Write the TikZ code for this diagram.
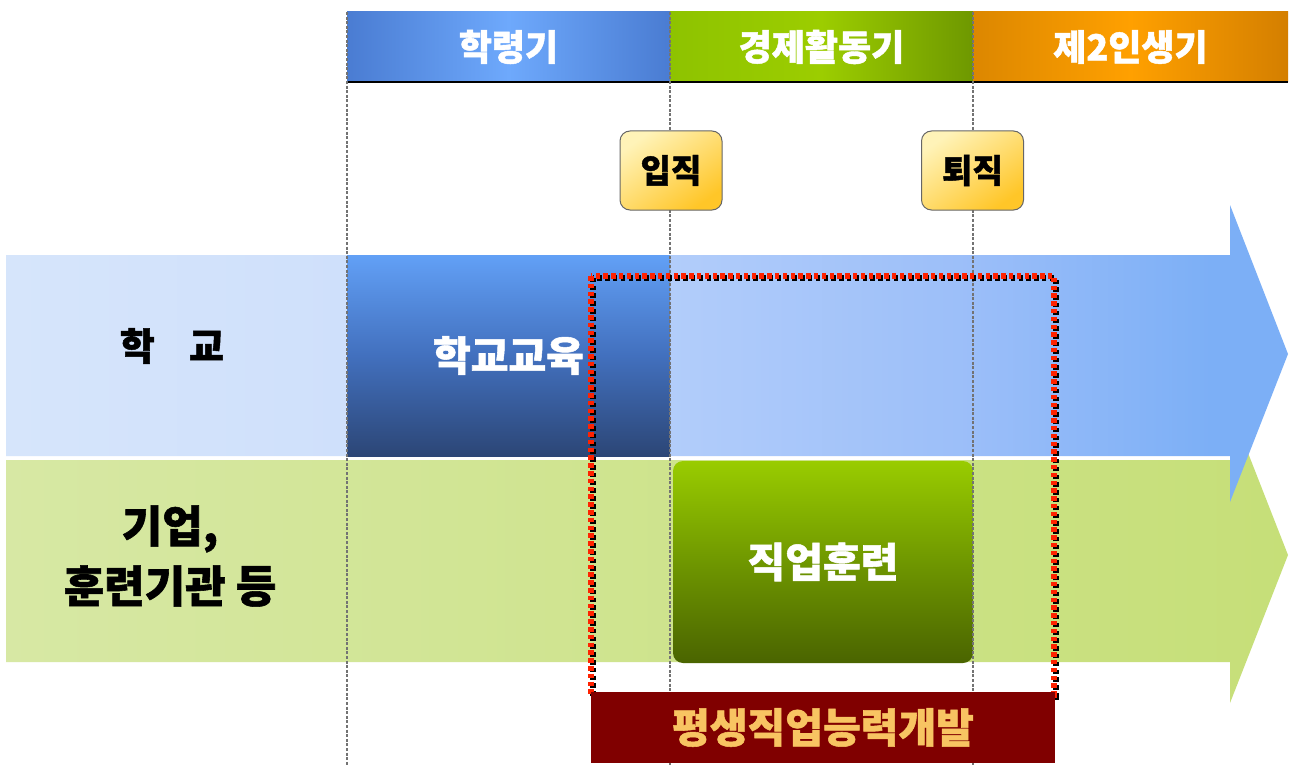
\documentclass[tikz,border=0pt]{standalone}
\usepackage{fontspec}
\setmainfont{Noto Sans CJK KR}[BoldFeatures={FakeBold=1.3}]
\definecolor{ba1}{HTML}{D6E5FB}
\definecolor{ba2}{HTML}{CFE0FB}
\definecolor{ba3}{HTML}{B2CDFA}
\definecolor{ba4}{HTML}{9BBEF9}
\definecolor{ba5}{HTML}{7CAFF6}
\definecolor{ga1}{HTML}{D7E8A4}
\definecolor{ga2}{HTML}{C6DF78}
\definecolor{hb1}{HTML}{4A7CD2}
\definecolor{hb2}{HTML}{6EA9FC}
\definecolor{hg1}{HTML}{8EC300}
\definecolor{hg2}{HTML}{9CCD00}
\definecolor{hg3}{HTML}{6E9800}
\definecolor{ho1}{HTML}{DC8700}
\definecolor{ho2}{HTML}{FFA000}
\definecolor{ho3}{HTML}{D47F00}
\definecolor{yb1}{HTML}{FFF3B8}
\definecolor{yb2}{HTML}{FFC628}
\definecolor{sb1}{HTML}{62A0F6}
\definecolor{sb2}{HTML}{4270BE}
\definecolor{sb3}{HTML}{2C4676}
\definecolor{jg1}{HTML}{99CC00}
\definecolor{jg2}{HTML}{6F9700}
\definecolor{jg3}{HTML}{4A6400}
\definecolor{dred}{HTML}{800000}
\definecolor{gold}{HTML}{F8C462}
\definecolor{dotred}{HTML}{FF2200}
\definecolor{vline}{HTML}{737373}
\pgfdeclarehorizontalshading{bluearrow}{100bp}{color(0bp)=(ba1); color(25bp)=(ba1); color(38.3bp)=(ba2); color(50.9bp)=(ba3); color(62.7bp)=(ba4); color(72bp)=(ba5); color(100bp)=(ba5)}
\begin{document}
\begin{tikzpicture}[x=1pt,y=-1pt,
  hdr/.style={minimum width=#1, minimum height=70pt, inner sep=0pt, text=white, font=\fontsize{36}{40}\selectfont\bfseries},
  evbox/.style={draw=gray!80!black, line width=1pt, rounded corners=10pt, minimum width=102pt, minimum height=79pt, inner sep=0pt,
    top color=yb1, bottom color=yb2, shading angle=35, font=\fontsize{33}{36}\selectfont\bfseries},
  bigbox/.style={inner sep=0pt, text=white, font=\fontsize{41}{44}\selectfont\bfseries},
  sidelabel/.style={align=center, font=\fontsize{44}{60}\selectfont\bfseries},
  vdash/.style={draw=vline, line width=2.4pt, dash pattern=on 3pt off 1.6pt},
  reddots/.style={line width=5.5pt, dash pattern=on 4.5pt off 3.3pt}
]
\useasboundingbox (0,0) rectangle (1291,765);
\fill[white] (0,0) rectangle (1291,765);
% bands (arrows)
\path[left color=ga1, right color=ga2] (6,460) -- (1230,460) -- (1230,407) -- (1288,555) -- (1230,703) -- (1230,662) -- (6,662) -- cycle;
\path[shading=bluearrow] (6,255) -- (1230,255) -- (1230,205) -- (1288,354) -- (1230,502) -- (1230,456) -- (6,456) -- cycle;
% boxes on the bands
\node[bigbox, minimum width=323pt, minimum height=201pt, top color=sb1, bottom color=sb3, middle color=sb2] (school) at (508.5,355.5) {학교교육};
\node[bigbox, minimum width=300pt, minimum height=202pt, rounded corners=10pt, top color=jg1, bottom color=jg3, middle color=jg2] (train) at (823,562) {직업훈련};
% header
\node[hdr=323pt, left color=hb1, right color=hb1, middle color=hb2] (h1) at (508.5,47) {학령기};
\node[hdr=303pt, left color=hg1, right color=hg3, middle color=hg2] (h2) at (821.5,47) {경제활동기};
\node[hdr=315pt, left color=ho1, right color=ho3, middle color=ho2] (h3) at (1130.5,47) {제2인생기};
\draw[line width=2.6pt] (h1.south west) -- (h3.south east);
% dashed period lines
\draw[vdash] (347,12) -- (347,765);
\draw[vdash] (670,12) -- (670,765);
\draw[vdash] (973,12) -- (973,765);
% events
\node[evbox] (in) at (671,170.5) {입직};
\node[evbox] (out) at (972.5,170.5) {퇴직};
% dotted frame
\draw[reddots, black] (592.8,277.8) rectangle (1055.8,696.8);
\draw[reddots, dotred] (591,276) rectangle (1054,695);
% lifelong box
\node[minimum width=464pt, minimum height=71pt, inner sep=0pt, fill=dred, text=gold, font=\fontsize{41}{44}\selectfont\bfseries] (life) at (823,727.5) {평생직업능력개발};
% side labels
\node[sidelabel, font=\fontsize{38}{44}\selectfont\bfseries] (lschool) at (172,346) {학\hspace{0.9em}교};
\node[sidelabel] (lcomp) at (170,556) {기업,\\훈련기관 등};
\end{tikzpicture}
\end{document}
